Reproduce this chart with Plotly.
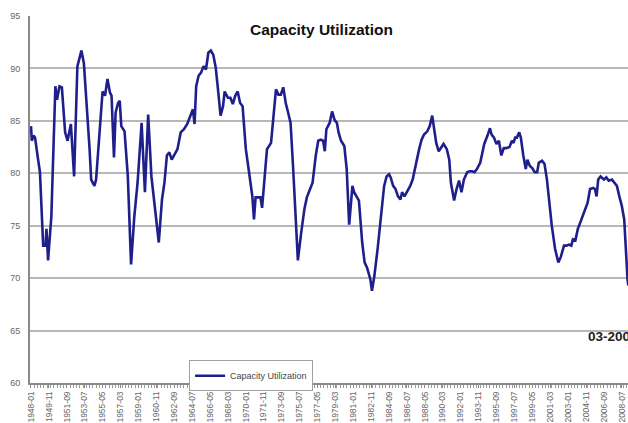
import plotly.graph_objects as go

# ---- data ----
months = [
    "1948-01","1948-02","1948-04","1948-06","1948-09","1948-12","1949-04","1949-07","1949-08","1949-10",
    "1950-02","1950-07","1950-09","1950-12","1951-03","1951-07","1951-10","1952-02","1952-06","1952-10",
    "1953-03","1953-06","1954-01","1954-03","1954-07","1954-09","1955-05","1955-08","1955-11","1956-02",
    "1956-04","1956-07","1956-09","1956-12","1957-02","1957-04","1957-08","1957-12","1958-04","1958-08",
    "1958-12","1959-05","1959-09","1960-01","1960-05","1960-10","1961-02","1961-06","1961-09","1961-12",
    "1962-03","1962-06","1962-09","1963-01","1963-05","1963-09","1964-01","1964-05","1964-08","1964-10",
    "1964-12","1965-03","1965-06","1965-09","1965-12","1966-03","1966-06","1966-09","1966-12","1967-02",
    "1967-04","1967-06","1967-09","1967-11","1968-03","1968-06","1968-09","1968-12","1969-03","1969-06",
    "1969-09","1970-01","1970-05","1970-09","1970-11","1971-01","1971-04","1971-07","1971-09","1971-12",
    "1972-03","1972-08","1972-11","1973-02","1973-05","1973-08","1973-11","1974-02","1974-05","1974-08",
    "1974-11","1975-02","1975-05","1975-09","1976-01","1976-04","1976-08","1976-11","1977-03","1977-06",
    "1977-09","1977-12","1978-02","1978-04","1978-08","1978-11","1979-02","1979-05","1979-07","1979-10",
    "1980-02","1980-05","1980-08","1980-12","1981-02","1981-05","1981-08","1981-12","1982-03","1982-06",
    "1982-10","1982-12","1983-03","1983-07","1983-11","1984-03","1984-06","1984-09","1984-11","1985-02",
    "1985-05","1985-08","1985-11","1986-01","1986-04","1986-07","1986-11","1987-02","1987-06","1987-10",
    "1988-01","1988-04","1988-08","1988-11","1989-02","1989-04","1989-07","1989-10","1990-01","1990-04",
    "1990-08","1990-11","1991-01","1991-05","1991-08","1991-11","1992-02","1992-05","1992-09","1992-12",
    "1993-03","1993-06","1993-09","1994-01","1994-03","1994-06","1994-10","1995-01","1995-03","1995-06",
    "1995-09","1995-12","1996-03","1996-06","1996-09","1997-01","1997-04","1997-06","1997-08","1997-10",
    "1998-01","1998-03","1998-06","1998-09","1998-11","1999-02","1999-05","1999-08","1999-11","2000-01",
    "2000-05","2000-08","2000-11","2001-02","2001-05","2001-09","2002-01","2002-04","2002-08","2002-11",
    "2003-02","2003-05","2003-07","2003-10","2004-01","2004-04","2004-07","2004-10","2005-01","2005-04",
    "2005-08","2005-10","2005-12","2006-02","2006-05","2006-09","2006-12","2007-03","2007-07","2007-10",
    "2008-01","2008-04","2008-07","2008-10","2008-12","2009-02","2009-03",
]
capacity_utilization = [
    84.5, 83.1, 83.6, 83.4, 81.7, 80.1, 73.1, 73.1, 74.7, 71.7,
    75.9, 88.3, 87.0, 88.3, 88.2, 83.9, 83.1, 84.7, 79.7, 90.2,
    91.7, 90.5, 82.3, 79.4, 78.8, 79.4, 87.8, 87.4, 89.0, 87.7,
    87.4, 81.5, 85.8, 86.7, 86.9, 84.5, 84.0, 79.7, 71.3, 75.9,
    79.1, 84.8, 78.2, 85.6, 79.7, 75.9, 73.4, 77.5, 79.1, 81.7,
    82.0, 81.3, 81.7, 82.3, 83.9, 84.2, 84.7, 85.6, 86.1, 84.7,
    88.3, 89.3, 89.6, 90.2, 89.9, 91.5, 91.7, 91.3, 90.1, 88.6,
    86.9, 85.5, 86.4, 87.8, 87.2, 87.2, 86.6, 87.4, 87.8, 86.7,
    86.4, 82.3, 80.1, 77.8, 75.6, 77.7, 77.7, 77.7, 76.7, 79.4,
    82.3, 82.9, 85.5, 88.0, 87.5, 87.5, 88.2, 86.7, 85.8, 84.8,
    80.7, 75.3, 71.7, 74.3, 76.6, 77.7, 78.5, 79.1, 81.7, 83.1,
    83.2, 83.1, 82.1, 84.2, 84.8, 85.9, 85.1, 84.8, 83.9, 83.1,
    82.6, 80.4, 75.1, 78.8, 78.2, 77.8, 77.4, 73.4, 71.5, 71.0,
    69.9, 68.8, 70.2, 72.8, 75.9, 78.8, 79.7, 79.9, 79.6, 78.8,
    78.5, 77.8, 77.5, 78.2, 77.8, 78.2, 78.8, 79.4, 81.0, 82.3,
    83.2, 83.7, 84.0, 84.5, 85.5, 84.5, 82.9, 82.1, 82.4, 82.8,
    82.3, 81.3, 79.1, 77.4, 78.5, 79.3, 78.2, 79.4, 80.1, 80.2,
    80.2, 80.1, 80.4, 81.0, 81.7, 82.8, 83.6, 84.3, 83.7, 83.4,
    82.8, 83.1, 81.7, 82.4, 82.4, 82.5, 83.1, 82.9, 83.4, 83.4,
    83.9, 83.4, 81.7, 80.4, 81.3, 80.7, 80.5, 80.1, 80.1, 81.0,
    81.2, 80.9, 79.4, 76.9, 75.0, 72.8, 71.5, 72.0, 73.1, 73.1,
    73.2, 73.1, 73.7, 73.6, 74.7, 75.3, 75.9, 76.6, 77.2, 78.5,
    78.6, 78.5, 77.8, 79.4, 79.7, 79.4, 79.6, 79.3, 79.4, 79.1,
    78.8, 77.8, 76.9, 75.6, 72.1, 69.9, 69.3,
]
tick_labels = [
    "1948-01","1949-11","1951-09","1953-07","1955-05","1957-03","1959-01","1960-11","1962-09",
    "1964-07","1966-05","1968-03","1970-01","1971-11","1973-09","1975-07","1977-05","1979-03",
    "1981-01","1982-11","1984-09","1986-07","1988-05","1990-03","1992-01","1993-11","1995-09",
    "1997-07","1999-05","2001-03","2003-01","2004-11","2006-09","2008-07",
]
y_ticks = [60, 65, 70, 75, 80, 85, 90, 95]
series_name = "Capacity Utilization"
title_text = "Capacity Utilization"
last_label = "03-2009"

FONT = "Liberation Sans, Arial, sans-serif"

fig = go.Figure()
fig.add_trace(go.Scatter(
    x=months, y=capacity_utilization, mode="lines", name=series_name,
    line=dict(color="#1f1f8c", width=2.6),
))

fig.update_layout(
    width=628, height=423,
    margin=dict(l=30, r=0, t=16, b=40),
    paper_bgcolor="white", plot_bgcolor="white",
    font=dict(family=FONT, color="#555555", size=9),
    showlegend=True,
    legend=dict(
        x=0.266, y=0.062, xanchor="left", yanchor="top",
        bordercolor="#a0a0a0", borderwidth=1, bgcolor="white",
        font=dict(size=9, color="#444444", family=FONT),
        itemwidth=30, tracegroupgap=0,
    ),
    annotations=[
        dict(text="<b>" + title_text + "</b>", xref="paper", yref="paper",
             x=0.488, y=0.962, xanchor="center", yanchor="middle", showarrow=False,
             font=dict(size=15.5, color="#111111", family=FONT)),
        dict(text="<b>" + last_label + "</b>", xref="paper", yref="paper",
             x=0.929, y=0.128, xanchor="left", yanchor="middle", showarrow=False,
             font=dict(size=13.5, color="#222222", family=FONT)),
    ],
)

fig.update_xaxes(
    type="date",
    range=["1947-11-25", "2009-02-19"],
    tickmode="array", tickvals=tick_labels, ticktext=tick_labels,
    tickangle=-90, tickfont=dict(size=8.5, color="#666666", family=FONT),
    showgrid=False, zeroline=False,
    showline=True, linecolor="#8a8a8a", linewidth=2,
    ticks="outside", ticklen=3, tickcolor="#8a8a8a", tickwidth=1,
    minor=dict(ticks="outside", dtick="M4", ticklen=3, tickcolor="#9a9a9a", tickwidth=1),
)
fig.update_yaxes(
    range=[60, 95], tickvals=y_ticks,
    tickfont=dict(size=9, color="#666666", family=FONT),
    showgrid=True, gridcolor="#b8b8b8", gridwidth=1.5,
    zeroline=False, showline=True, linecolor="#8a8a8a", linewidth=2,
    ticks="", ticklabelstandoff=6,
)

fig.write_html("out.html")
